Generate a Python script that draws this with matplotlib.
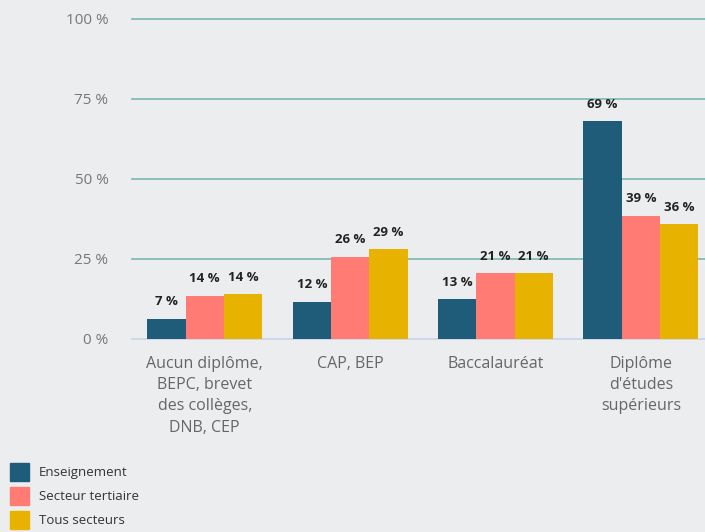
import matplotlib
matplotlib.use("Agg")
import matplotlib.pyplot as plt
import numpy as np

plt.rcParams['font.family'] = ['Open Sans', 'DejaVu Sans']

categories = ["Aucun diplôme,\nBEPC, brevet\ndes collèges,\nDNB, CEP", "CAP, BEP", "Baccalauréat", "Diplôme\nd'études\nsupérieurs"]
series_names = ["Enseignement", "Secteur tertiaire", "Tous secteurs"]
enseignement = [6.4, 11.6, 12.5, 68.0]
tertiaire = [13.5, 25.7, 20.6, 38.5]
tous = [14.0, 28.1, 20.6, 35.8]
lab_enseignement = ["7 %", "12 %", "13 %", "69 %"]
lab_tertiaire = ["14 %", "26 %", "21 %", "39 %"]
lab_tous = ["14 %", "29 %", "21 %", "36 %"]
yticks = [0, 25, 50, 75, 100]
ytick_labels = ["0 %", "25 %", "50 %", "75 %", "100 %"]

colors = ["#1f5c7a", "#ff7b73", "#e8b200"]
bg = "#ecedef"

W, H = 705, 532
fig = plt.figure(figsize=(W / 100, H / 100), dpi=100, facecolor=bg)
ax = fig.add_axes([132 / W, (H - 339) / H, 581.5 / W, 320 / H])
ax.set_facecolor(bg)

x = np.arange(len(categories))
bw = 0.2635
series = [enseignement, tertiaire, tous]
labels = [lab_enseignement, lab_tertiaire, lab_tous]
for i, (vals, labs) in enumerate(zip(series, labels)):
    pos = x + (i - 1) * bw
    ax.bar(pos, vals, width=bw, color=colors[i], label=series_names[i], zorder=3)
    for p, v, t in zip(pos, vals, labs):
        ax.annotate(t, (p, v), xytext=(0, 12.2), textcoords="offset points",
                    ha="center", va="center", fontsize=9.5, fontweight="bold",
                    color="#222222", zorder=4)

ax.set_xlim(-0.5, 3.5)
ax.set_ylim(0, 100)
ax.set_yticks(yticks)
ax.set_yticklabels(ytick_labels, fontsize=11, color="#777777")
for y in yticks[1:]:
    ax.axhline(y, color="#84bcb5", linewidth=1.3, zorder=1, clip_on=False)
ax.axhline(0, color="#c8d4ea", linewidth=1.2, zorder=2, clip_on=False)

ax.set_xticks(x)
ax.set_xticklabels(categories, fontsize=11.5, color="#666666", linespacing=1.45)
ax.tick_params(axis="x", length=0, pad=12)
ax.tick_params(axis="y", length=0, pad=17)
for s in ax.spines.values():
    s.set_visible(False)

# legend
handles = [plt.Rectangle((0, 0), 1, 1, color=c) for c in colors]
leg = fig.legend(handles, series_names, loc="upper left",
                 bbox_to_anchor=(6 / W, 1 - 459 / H), frameon=False,
                 fontsize=9.5, handlelength=1.45, handleheight=1.75,
                 handletextpad=0.75, labelspacing=0.42, borderpad=0.3,
                 borderaxespad=0)
for t in leg.get_texts():
    t.set_color("#333333")

fig.savefig("out.png", dpi=100, facecolor=bg)
